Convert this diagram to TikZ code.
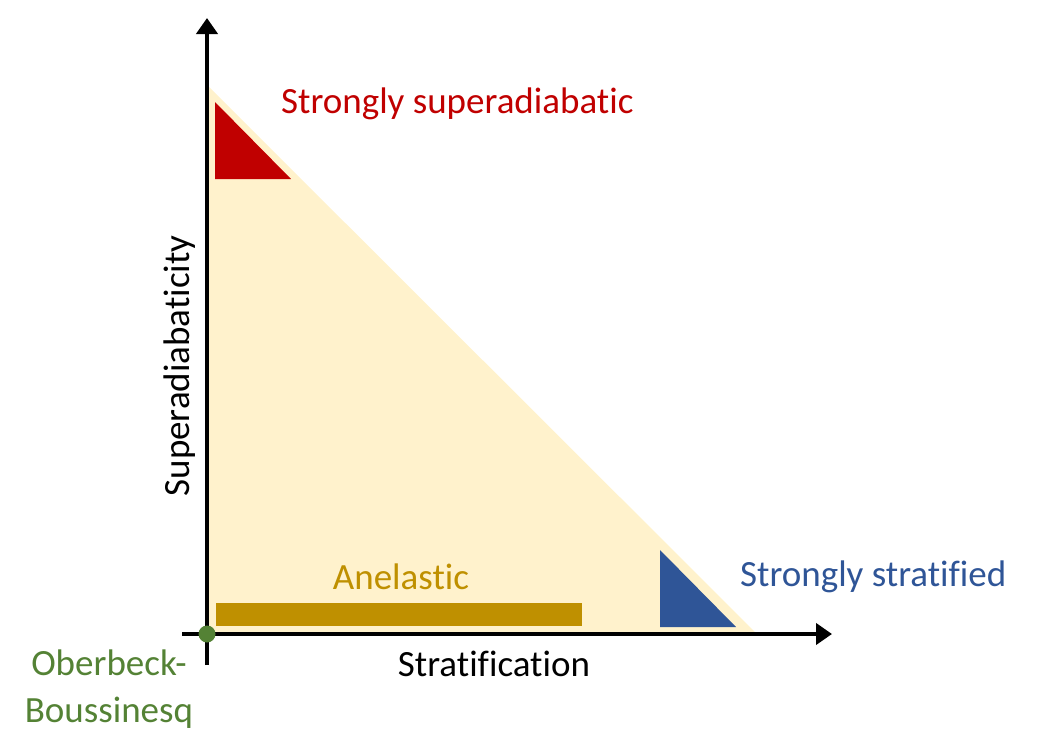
\documentclass[tikz,border=0pt]{standalone}
\usepackage{fontspec}
\setmainfont{Carlito}[Ligatures=NoCommon]
\usetikzlibrary{arrows.meta}
\definecolor{fillyel}{HTML}{FFF2CC}
\definecolor{cred}{HTML}{C00000}
\definecolor{cblue}{HTML}{2F5597}
\definecolor{cgold}{HTML}{BF9000}
\definecolor{cgreen}{HTML}{548235}
\tikzset{
  axis/.style={line width=4pt, -{Triangle[length=16pt,width=21pt]}},
  lbl/.style={font=\fontsize{37}{44}\selectfont, inner sep=0pt},
}
\begin{document}
\begin{tikzpicture}[x=1pt,y=-1pt]
\useasboundingbox (0,0) rectangle (1047,750);
% shaded region
\fill[fillyel] (208,86) -- (757,634) -- (208,634) -- cycle;
\fill[cred] (215,102) -- (291,179) -- (215,179) -- cycle;
\fill[cblue] (660,550) -- (736,627) -- (660,627) -- cycle;
\fill[cgold] (216,603) rectangle (582,626);
% axes
\coordinate (xs) at (182,634);
\coordinate (xe) at (832,634);
\coordinate (ys) at (207,665);
\coordinate (ye) at (207,18);
\draw[axis] (xs) -- (xe);
\draw[axis] (ys) -- (ye);
\node[circle, fill=cgreen, minimum size=17pt, inner sep=0pt] (ob) at (207,634) {};
% labels
\node[lbl, text=cred, anchor=west] (ssa) at (281,104) {Strongly superadiabatic};
\node[lbl, text=cgold] (ane) at (401,577) {Anelastic};
\node[lbl, text=cblue, anchor=west] (sst) at (740,577) {Strongly stratified};
\node[lbl] (strat) at (494,664) {Stratification};
\node[lbl, rotate=90] (supad) at (180,366) {Superadiabaticity};
\node[lbl, text=cgreen, align=center, font=\fontsize{37}{47}\selectfont] (obl) at (109,689) {Oberbeck-\\Boussinesq};
\end{tikzpicture}
\end{document}
